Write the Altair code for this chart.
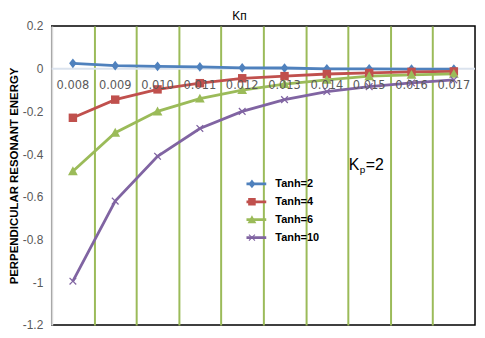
import altair as alt
import pandas as pd

# ---- data ----
k_par = [0.008, 0.009, 0.010, 0.011, 0.012, 0.013, 0.014, 0.015, 0.016, 0.017]
k_labels = ["0.008", "0.009", "0.010", "0.011", "0.012", "0.013", "0.014", "0.015", "0.016", "0.017"]
series_names = ["Tanh=2", "Tanh=4", "Tanh=6", "Tanh=10"]
tanh2 = [0.025, 0.014, 0.011, 0.008, 0.004, 0.003, -0.001, -0.001, -0.002, -0.002]
tanh4 = [-0.23, -0.145, -0.097, -0.068, -0.045, -0.035, -0.025, -0.020, -0.015, -0.013]
tanh6 = [-0.48, -0.30, -0.20, -0.14, -0.10, -0.072, -0.052, -0.035, -0.029, -0.024]
tanh10 = [-0.995, -0.62, -0.41, -0.28, -0.20, -0.145, -0.107, -0.084, -0.067, -0.053]
y_ticks = [0.2, 0, -0.2, -0.4, -0.6, -0.8, -1, -1.2]
grid_x = [0.0085, 0.0095, 0.0105, 0.0115, 0.0125, 0.0135, 0.0145, 0.0155, 0.0165]
colors = ["#4f81bd", "#c0504d", "#9bbb59", "#8064a2"]

# line legend uses its own (space-suffixed) domain so Vega-Lite keeps it separate
line_names = [s + " " for s in series_names]

rows = []
for name, lname, vals in zip(series_names, line_names, [tanh2, tanh4, tanh6, tanh10]):
    for k, v in zip(k_par, vals):
        rows.append({"k": k, "E": v, "series": name, "line_series": lname})
df = pd.DataFrame(rows)
lab_df = pd.DataFrame({"k": k_par, "label": k_labels})

xscale = alt.Scale(domain=[0.0075, 0.0175], nice=False, zero=False)
yscale = alt.Scale(domain=[-1.2, 0.2], nice=False, zero=False)

X_SHAPE = ("M-0.85,-0.65L-0.65,-0.85L0,-0.2L0.65,-0.85L0.85,-0.65L0.2,0L0.85,0.65"
           "L0.65,0.85L0,0.2L-0.65,0.85L-0.85,0.65L-0.2,0Z")
shapes = ["M0,-1.1L0.85,0L0,1.1L-0.85,0Z", "M-0.95,-0.95L0.95,-0.95L0.95,0.95L-0.95,0.95Z",
          "M0,-1.1L1.1,0.9L-1.1,0.9Z", X_SHAPE]

LEG_X, LEG_Y = 196, 153
leg_common = dict(title=None, orient="none", legendX=LEG_X, legendY=LEG_Y,
                  labelFont="Liberation Sans", labelFontWeight="bold",
                  labelFontSize=11, labelColor="black",
                  symbolSize=64, labelOffset=18, rowPadding=6, clipHeight=12)

x_enc = alt.X("k:Q", scale=xscale,
              axis=alt.Axis(values=grid_x, labels=False, ticks=False, domain=False,
                            title=None, grid=True, gridColor="#9bbb59", gridWidth=2,
                            gridOpacity=1))
y_enc = alt.Y("E:Q", scale=yscale,
              axis=alt.Axis(values=y_ticks, ticks=False, grid=False,
                            domainColor="#d9d9d9", domainWidth=2,
                            labelExpr="datum.value < 0 ? '-' + format(-datum.value, '~g') : format(datum.value, '~g')",
                            labelColor="#595959", labelFontSize=12, labelFont="Liberation Sans",
                            labelPadding=9,
                            title="PERPENDICULAR RESONANT ENERGY", titleFont="Liberation Sans",
                            titleFontSize=11.5, titleFontWeight="bold", titleColor="black",
                            titlePadding=3))

base = alt.Chart(df)

zero_rule = alt.Chart(pd.DataFrame({"z": [0]})).mark_rule(color="#dbe3ee", strokeWidth=2).encode(
    y=alt.Y("z:Q", scale=yscale))

lines = base.mark_line(strokeWidth=2.8).encode(
    x=x_enc, y=y_enc,
    stroke=alt.Stroke("line_series:N", scale=alt.Scale(domain=line_names, range=colors),
                      legend=alt.Legend(symbolType="M-3.6,0L3.6,0", symbolStrokeWidth=2.8,
                                        labelExpr="''", zindex=1, **leg_common)),
    order=alt.Order("k:Q"),
)

pts = base.mark_point(filled=True, opacity=1, size=80).encode(
    x="k:Q", y="E:Q",
    fill=alt.Fill("series:N", scale=alt.Scale(domain=series_names, range=colors),
                  legend=alt.Legend(zindex=2, symbolOpacity=1, **leg_common)),
    shape=alt.Shape("series:N", scale=alt.Scale(domain=series_names, range=shapes),
                    legend=alt.Legend(zindex=2, symbolOpacity=1, **leg_common)),
)

xlabels = alt.Chart(lab_df).mark_text(font="DejaVu Sans", fontSize=11.5, color="#595959",
                                      baseline="middle").encode(
    x=alt.X("k:Q", scale=xscale), y=alt.value(60), text="label:N")

title_txt = alt.Chart(pd.DataFrame({"t": ["Kп"]})).mark_text(
    font="Liberation Sans", fontSize=12, color="black", baseline="middle").encode(
    x=alt.value(189), y=alt.value(-10), text="t:N")

kp_k = alt.Chart(pd.DataFrame({"t": ["K"]})).mark_text(
    font="Liberation Sans", fontSize=16, color="black", baseline="middle", align="left").encode(
    x=alt.value(299), y=alt.value(140), text="t:N")
kp_p = alt.Chart(pd.DataFrame({"t": ["p"]})).mark_text(
    font="Liberation Sans", fontSize=10, color="black", baseline="middle", align="left").encode(
    x=alt.value(310), y=alt.value(145), text="t:N")
kp_eq = alt.Chart(pd.DataFrame({"t": ["=2"]})).mark_text(
    font="Liberation Sans", fontSize=16, color="black", baseline="middle", align="left").encode(
    x=alt.value(316), y=alt.value(140), text="t:N")

chart = alt.layer(zero_rule, lines, pts, xlabels, title_txt, kp_k, kp_p, kp_eq).properties(
    width=426, height=301,
    autosize=alt.AutoSizeParams(type="none"),
    padding={"left": 44, "top": 17, "right": 2, "bottom": 8},
).configure_view(stroke="black", strokeWidth=1.5)

chart.save("out.html", embed_options={"renderer": "svg", "actions": False})
